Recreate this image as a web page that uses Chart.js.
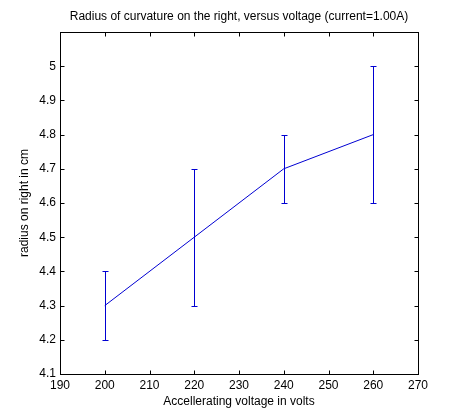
<!DOCTYPE html>
<html lang="en">
<head>
    <meta charset="UTF-8">
    <title>Radius of curvature</title>
    <script src="https://cdn.jsdelivr.net/npm/chart.js"></script>
    <style>
        html, body { margin: 0; padding: 0; background: #fff; }
        #wrap { width: 462px; height: 420px; }
    </style>
</head>
<body>
    <div id="wrap"><canvas id="radiusChart"></canvas></div>

    <script>
        // data
        const voltages = [200, 220, 240, 260];
        const radius = [4.3, 4.5, 4.7, 4.8];
        const radiusLow = [4.2, 4.3, 4.6, 4.6];
        const radiusHigh = [4.4, 4.7, 4.8, 5.0];
        const xTicks = [190, 200, 210, 220, 230, 240, 250, 260, 270];
        const yTicks = [4.1, 4.2, 4.3, 4.4, 4.5, 4.6, 4.7, 4.8, 4.9, 5.0];
        const titleText = 'Radius of curvature on the right, versus voltage (current=1.00A)';

        const blue = 'rgb(0,0,210)';
        const font = { family: '"Liberation Sans", Arial, sans-serif', size: 12 };

        // error bars, title over the axes, and the matlab style box with inward ticks
        const matlabBox = {
            id: 'matlabBox',
            afterDatasetsDraw(chart) {
                const ctx = chart.ctx;
                const x = chart.scales.x, y = chart.scales.y;
                const a = chart.chartArea;

                ctx.save();
                ctx.strokeStyle = blue;
                ctx.lineWidth = 1;
                voltages.forEach((v, i) => {
                    const px = Math.round(x.getPixelForValue(v)) + 0.5;
                    const lo = Math.round(y.getPixelForValue(radiusLow[i])) + 0.5;
                    const hi = Math.round(y.getPixelForValue(radiusHigh[i])) + 0.5;
                    ctx.beginPath();
                    ctx.moveTo(px, lo); ctx.lineTo(px, hi);
                    ctx.moveTo(px - 3, lo); ctx.lineTo(px + 3, lo);
                    ctx.moveTo(px - 3, hi); ctx.lineTo(px + 3, hi);
                    ctx.stroke();
                });

                ctx.strokeStyle = '#000';
                const L = Math.round(a.left) + 0.5, R = Math.round(a.right) + 0.5;
                const T = Math.round(a.top) + 0.5, B = Math.round(a.bottom) + 0.5;
                ctx.strokeRect(L, T, R - L, B - T);
                ctx.beginPath();
                xTicks.forEach(v => {
                    const px = Math.round(x.getPixelForValue(v)) + 0.5;
                    ctx.moveTo(px, B); ctx.lineTo(px, B - 4);
                    ctx.moveTo(px, T); ctx.lineTo(px, T + 4);
                });
                yTicks.forEach(v => {
                    const py = Math.round(y.getPixelForValue(v)) + 0.5;
                    ctx.moveTo(L, py); ctx.lineTo(L + 4, py);
                    ctx.moveTo(R, py); ctx.lineTo(R - 4, py);
                });
                ctx.stroke();

                ctx.fillStyle = '#000';
                ctx.font = font.size + 'px ' + font.family;
                ctx.textAlign = 'center';
                ctx.textBaseline = 'middle';
                ctx.fillText(titleText, (a.left + a.right) / 2, 17);
                ctx.restore();
            }
        };

        new Chart(document.getElementById('radiusChart'), {
            type: 'line',
            data: {
                datasets: [{
                    label: 'radius',
                    data: voltages.map((v, i) => ({ x: v, y: radius[i] })),
                    borderColor: blue,
                    borderWidth: 1,
                    pointRadius: 0,
                    tension: 0,
                    fill: false
                }]
            },
            options: {
                responsive: true,
                maintainAspectRatio: false,
                animation: false,
                layout: { padding: { left: 0, right: 44, top: 32, bottom: 0 } },
                plugins: {
                    legend: { display: false },
                    tooltip: { enabled: false },
                    title: { display: false }
                },
                scales: {
                    x: {
                        type: 'linear',
                        min: 190,
                        max: 270,
                        afterBuildTicks: s => { s.ticks = xTicks.map(v => ({ value: v })); },
                        afterFit: s => { s.height = 46; },
                        grid: { display: false, drawTicks: false },
                        border: { display: false },
                        ticks: { color: '#000', font: font, padding: 4, maxRotation: 0 },
                        title: {
                            display: true,
                            text: 'Accellerating voltage in volts',
                            color: '#000',
                            font: font,
                            padding: { top: 0, bottom: 11 }
                        }
                    },
                    y: {
                        min: 4.1,
                        max: 5.1,
                        afterBuildTicks: s => { s.ticks = yTicks.map(v => ({ value: v })); },
                        afterFit: s => { s.width = 60; },
                        grid: { display: false, drawTicks: false },
                        border: { display: false },
                        ticks: {
                            color: '#000',
                            font: font,
                            padding: 4,
                            callback: v => String(+Number(v).toFixed(1))
                        },
                        title: {
                            display: true,
                            text: 'radius on right in cm',
                            color: '#000',
                            font: font,
                            padding: { top: 17, bottom: 0 }
                        }
                    }
                }
            },
            plugins: [matlabBox]
        });
    </script>
</body>
</html>
